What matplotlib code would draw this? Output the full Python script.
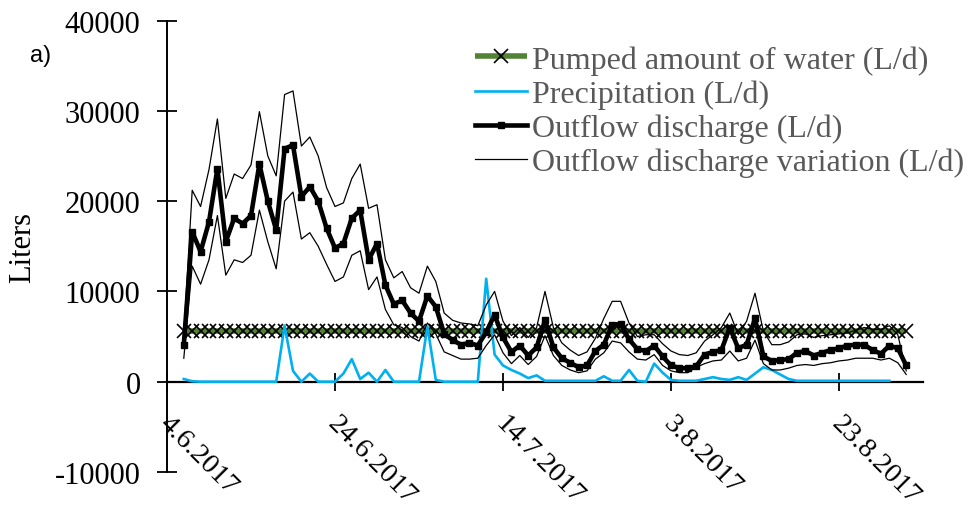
import matplotlib
matplotlib.use("Agg")
import matplotlib.pyplot as plt
import matplotlib.transforms as mtransforms
import pandas as pd

# ---------------- data (values in litres per day) ----------------
start_date = "2017-06-06"

outflow = [4100, 16600, 14400, 17700, 23600, 15500, 18100, 17500, 18400, 24100,
           20000, 16800, 25800, 26200, 20500, 21600, 20000, 17000, 14800, 15300,
           18100, 19000, 13500, 15300, 10700, 8600, 9000, 7600, 6700, 9500,
           8300, 5300, 4600, 4100, 4300, 4000, 5500, 7400, 4900, 3300,
           4000, 2900, 3800, 6800, 3800, 2600, 2100, 1600, 1800, 3400,
           4100, 6300, 6400, 4700, 3600, 3400, 4000, 2800, 1800, 1500,
           1500, 1700, 3000, 3300, 3500, 6000, 3700, 4100, 7000, 2800,
           2300, 2400, 2500, 3200, 3400, 2900, 3200, 3500, 3700, 4000,
           4100, 4100, 3500, 3100, 4000, 3700, 1800]

upper = [5200, 21200, 19400, 23500, 29100, 20300, 23000, 22500, 24000, 29900,
         25000, 22800, 31800, 32200, 26100, 27100, 25000, 21500, 19400, 19800,
         22500, 24100, 19200, 19600, 13500, 11500, 12200, 10400, 9800, 12800,
         11100, 7600, 6800, 6500, 6400, 6200, 8500, 10000, 6700, 5100,
         6000, 4900, 6000, 10000, 6000, 4300, 3500, 2900, 3300, 4800,
         7000, 8900, 8900, 6500, 5000, 5200, 5200, 4200, 3400, 3000,
         2900, 3200, 4500, 5200, 6000, 7600, 5200, 6700, 9800, 5600,
         4100, 4100, 4400, 5200, 5300, 4900, 5100, 5200, 5300, 5400,
         5700, 6000, 5800, 5800, 6200, 5200, 1200]

lower = [2600, 12800, 10800, 13500, 18400, 11800, 13500, 13200, 14000, 19000,
         15500, 12500, 20000, 21000, 15800, 16500, 15000, 13000, 11100, 11600,
         14000, 14500, 10200, 11600, 8000, 6300, 6000, 5000, 4500, 6500,
         5300, 3300, 2900, 2500, 2500, 2600, 4000, 5200, 3200, 2000,
         2900, 1900, 2800, 5100, 2900, 1800, 1300, 1000, 1200, 2500,
         3200, 4500, 4300, 3300, 2500, 2400, 3000, 1800, 1200, 1000,
         1000, 1600, 2000, 2300, 2400, 3400, 2300, 2600, 4600, 2000,
         1300, 1300, 1500, 1800, 1900, 1800, 2000, 2100, 2300, 2400,
         2600, 2600, 2600, 2400, 2600, 2100, 800]

precip = [300, 50, 0, 0, 0, 0, 0, 0, 0, 0,
          0, 0, 6200, 1200, 0, 900, 0, 0, 0, 900,
          2500, 300, 1000, 0, 1300, 0, 0, 0, 0, 6100,
          200, 0, 0, 0, 0, 0, 11400, 3000, 1800, 1300,
          900, 400, 700, 100, 100, 100, 100, 100, 100, 100,
          600, 100, 100, 1300, 100, 0, 2000, 1000, 200, 100,
          100, 100, 300, 500, 300, 200, 500, 200, 900, 1600,
          1300, 800, 300, 100, 100, 100, 100, 100, 100, 100,
          100, 100, 100, 100, 100]

pumped = [5600] * len(outflow)

tick_labels = ["4.6.2017", "24.6.2017", "14.7.2017", "3.8.2017", "23.8.2017"]
y_ticks = [-10000, 0, 10000, 20000, 30000, 40000]

legend_labels = ["Pumped amount of water (L/d)", "Precipitation (L/d)",
                 "Outflow discharge (L/d)", "Outflow discharge variation (L/d)"]

# ---------------- plotting ----------------
serif = ["Liberation Serif", "DejaVu Serif"]

dates = pd.date_range(start_date, periods=len(outflow), freq="D")
pdates = pd.date_range(start_date, periods=len(precip), freq="D")
tick_dates = pd.to_datetime(tick_labels, format="%d.%m.%Y")

fig = plt.figure(figsize=(9.68, 5.10), dpi=100)
ax = fig.add_axes([167 / 968, 1 - 473 / 510, (923 - 167) / 968, (473 - 21.5) / 510])

l_pump, = ax.plot(dates, pumped, color="#548235", lw=4.0, marker="x", ms=10,
                  mec="black", mew=1.2, zorder=2, solid_capstyle="butt")
l_prec, = ax.plot(pdates, precip, color="#00B0F0", lw=1.9, zorder=3)
l_out, = ax.plot(dates, outflow, color="black", lw=3.3, marker="s", ms=4.8,
                 zorder=4)
l_var, = ax.plot(dates, upper, color="black", lw=0.9, zorder=5)
ax.plot(dates, lower, color="black", lw=0.9, zorder=5)

ax.set_xlim(pd.Timestamp("2017-06-04"), pd.Timestamp("2017-09-02"))
ax.set_ylim(-10000, 40000)

ax.spines["top"].set_visible(False)
ax.spines["right"].set_visible(False)
ax.spines["bottom"].set_position(("data", 0))
ax.spines["bottom"].set_linewidth(1.6)
ax.spines["left"].set_linewidth(1.4)

ax.set_yticks(y_ticks)
ax.set_yticklabels([str(v) for v in y_ticks], fontfamily=serif, fontsize=22)
ax.set_xticks(tick_dates)
ax.set_xticklabels(tick_labels, fontfamily=serif, fontsize=20.5, rotation=-45,
                   ha="left", va="top", rotation_mode="anchor")
ax.tick_params(axis="y", direction="inout", length=14, width=1.3, pad=12)
ax.tick_params(axis="x", direction="inout", length=13, width=1.3, pad=12)

shift = mtransforms.ScaledTranslation(5 / 100, -3 / 100, fig.dpi_scale_trans)
for lab in ax.get_xticklabels():
    lab.set_transform(lab.get_transform() + shift)

ax.set_ylabel("Liters", fontfamily=serif, fontsize=22)
ax.yaxis.set_label_coords(-0.172, 0.5)

leg = ax.legend([l_pump, l_prec, l_out, l_var], legend_labels,
                loc="upper left", bbox_to_anchor=(475 / 968, 1 - 46 / 510),
                bbox_transform=fig.transFigure, frameon=False,
                prop={"family": serif, "size": 23}, labelcolor="#595959",
                handlelength=1.62, handletextpad=0.18, labelspacing=0.15,
                borderpad=0, borderaxespad=0, numpoints=1)

fig.text(30 / 968, 1 - 56 / 510, "a)", fontsize=17, fontfamily="Liberation Sans",
         va="center", ha="left")

fig.savefig("out.png", dpi=100)
